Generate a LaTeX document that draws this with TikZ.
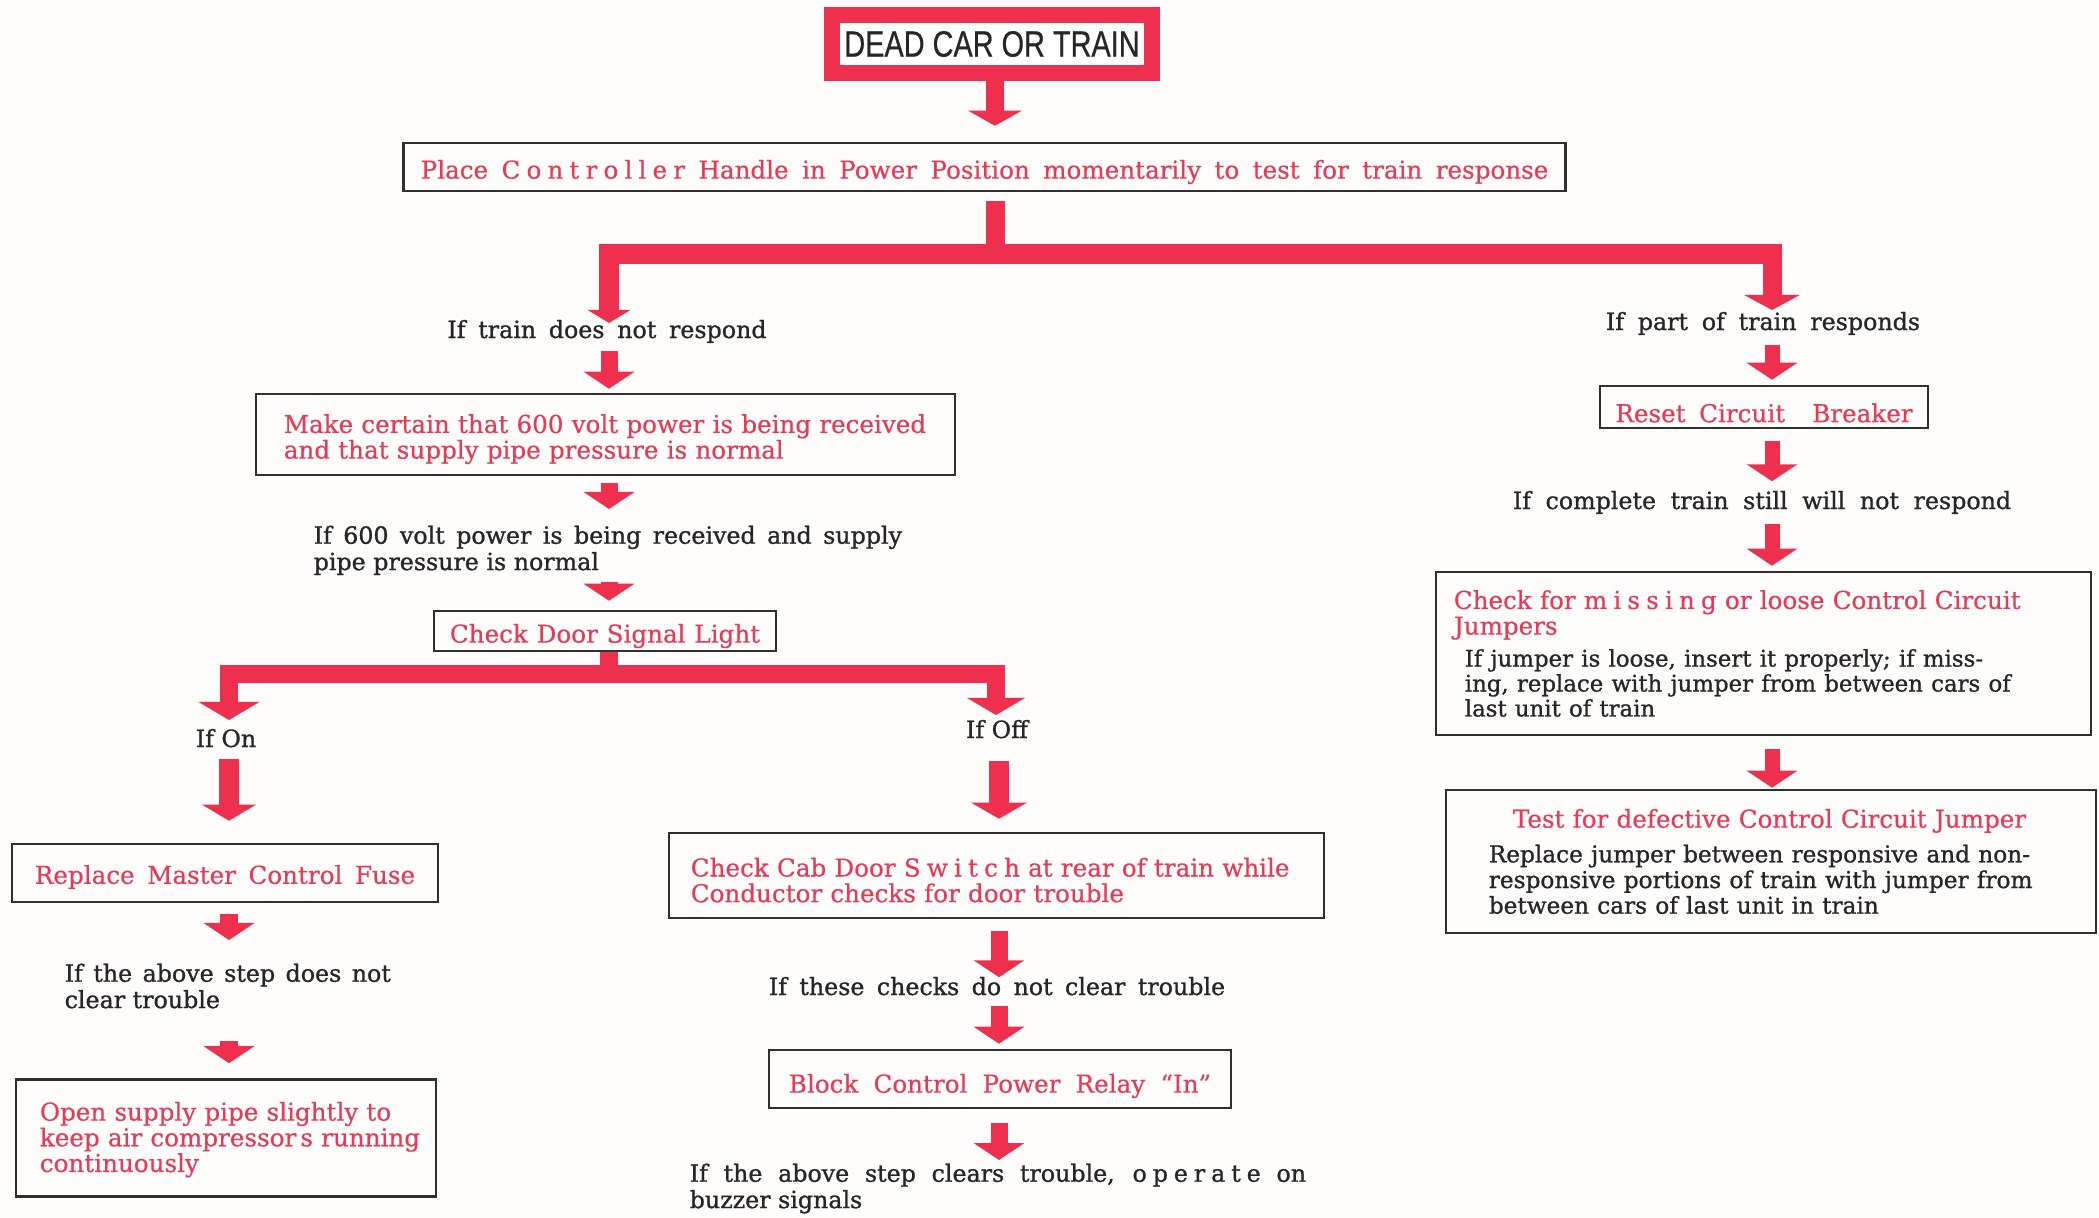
\documentclass[tikz,border=0pt]{standalone}
\usepackage{fontspec}
\usepackage{graphicx}
\setmainfont{DejaVu Serif}
\newfontfamily\redfont{DejaVu Serif}[FakeBold=0.4]
\newfontfamily\blkfont{DejaVu Serif}[FakeBold=1.0]
\newfontfamily\titlefont{Liberation Sans}
\usetikzlibrary{arrows.meta,calc}
\definecolor{ared}{HTML}{EE2F4D}
\definecolor{tred}{HTML}{E63A55}
\definecolor{tblk}{HTML}{262626}
\definecolor{bord}{HTML}{303030}
\definecolor{bgc}{HTML}{FFFCFC}
\newcommand\spc[1]{{\addfontfeature{LetterSpace=25}#1}}
\newcommand\jl[2]{\makebox[#1][s]{#2}}
\newcommand\low[2]{\raisebox{-#1}[\height][\depth]{#2}}
\newcommand\redsz{\redfont\fontsize{7.0}{7.3}\selectfont}
\newcommand\blksz{\blkfont\fontsize{6.75}{7.5}\selectfont}
\newcommand\jbsz{\blkfont\fontsize{6.5}{7.1}\selectfont}
\newcommand\tbsz{\blkfont\fontsize{6.6}{7.3}\selectfont}
\begin{document}
\begin{tikzpicture}[x=0.01cm,y=-0.01cm,
  arr/.style={draw=ared, line width=0.17cm, line join=miter, -{Triangle[width=0.5cm,length=0.17cm]}},
  box/.style={draw=bord, line width=0.025cm, inner sep=0pt},
  rtx/.style={text=tred, font=\redsz},
  btx/.style={text=tblk, font=\blksz, inner sep=0pt},
]
\fill[bgc] (0,0) rectangle (2099,1218);
\useasboundingbox (0,0) rectangle (2099,1218);

% column lines and free ends
\coordinate (cT) at (995,0);
\coordinate (cA) at (609,0);
\coordinate (cB) at (229,0);
\coordinate (cC) at (999,0);
\coordinate (cD) at (1772,0);
\coordinate (busA) at (0,254);
\coordinate (busB) at (0,674);
\coordinate (tipQ1) at (609,323);
\coordinate (tipP) at (1772,310);
\coordinate (tipOn) at (229,720);
\coordinate (tipOff) at (996,715);

% title
\node[fill=white, draw=ared, line width=0.16cm, minimum width=3.19cm, minimum height=0.57cm, inner sep=0pt, text=tblk] (title) at (992,44)
  {\titlefont\fontsize{10.4}{12}\selectfont\addfontfeature{FakeBold=0.6}\scalebox{0.79}[1]{DEAD CAR OR TRAIN}};

% boxes
\node[box, rtx, minimum width=11.61cm, minimum height=0.48cm] (place) at (984.5,167)
  {\low{0.05cm}{\jl{11.27cm}{Place \spc{Controller} Handle in Power Position momentarily to test for train response}}};
\node[box, rtx, minimum width=6.99cm, minimum height=0.81cm, text width=6.43cm, align=left] (make) at (605.5,434.5)
  {\rule{0pt}{0.28cm}\jl{6.51cm}{Make certain that 600 volt power is being received}\\and that supply pipe pressure is normal};
\node[box, rtx, minimum width=3.42cm, minimum height=0.40cm] (door) at (605,631)
  {\low{0.05cm}{\jl{3.10cm}{Check Door Signal Light}}};
\node[box, rtx, minimum width=4.26cm, minimum height=0.58cm] (fuse) at (225,873)
  {\low{0.04cm}{\jl{3.80cm}{Replace Master Control Fuse}}};
\node[box, rtx, minimum width=4.20cm, minimum height=1.17cm, text width=3.72cm, align=left] (open) at (226,1138)
  {\rule{0pt}{0.22cm}\jl{3.54cm}{Open supply pipe slightly to}\\\jl{3.90cm}{keep air compressor\,s running}\\continuously};
\node[box, rtx, minimum width=6.55cm, minimum height=0.85cm, text width=6.11cm, align=left] (cab) at (996.5,875.5)
  {\rule{0pt}{0.28cm}\jl{6.16cm}{Check Cab Door \spc{Switch} at rear of train while}\\Conductor checks for door trouble};
\node[box, rtx, minimum width=4.62cm, minimum height=0.58cm] (block) at (1000,1079)
  {\low{0.07cm}{\jl{4.22cm}{Block Control Power Relay “In”}}};
\node[box, rtx, minimum width=3.28cm, minimum height=0.42cm] (reset) at (1764,407)
  {\low{0.06cm}{\jl{2.97cm}{Reset Circuit\ \ Breaker}}};
\node[box, rtx, minimum width=6.55cm, minimum height=1.63cm, text width=6.19cm, align=left] (jump) at (1763.5,653.5)
  {\jl{6.15cm}{Check for \spc{missing} or loose Control Circuit}\\Jumpers\par\vspace{0.07cm}%
   {\color{tblk}\jbsz\hspace*{0.11cm}\jl{6.00cm}{If jumper is loose, insert it properly; if miss-}\\\hspace*{0.11cm}\jl{6.00cm}{ing, replace with jumper from between cars of}\\\hspace*{0.11cm}last unit of train\par}};
\node[box, rtx, minimum width=6.50cm, minimum height=1.43cm, text width=5.64cm, align=left] (test) at (1771,861.5)
  {\hspace*{0.24cm}\jl{5.33cm}{Test for defective Control Circuit Jumper}\par\vspace{0.09cm}%
   {\color{tblk}\tbsz\jl{5.95cm}{Replace jumper between responsive and non-}\\\jl{5.93cm}{responsive portions of train with jumper from}\\between cars of last unit in train\par}};

% condition labels
\node[btx, anchor=base] (q1) at (607,338) {\jl{3.19cm}{If train does not respond}};
\node[btx, anchor=north west, align=left] (q600) at (313,525)
  {\jl{5.88cm}{If 600 volt power is being received and supply}\\pipe pressure is normal};
\node[btx, anchor=base] (on) at (226,747) {If On};
\node[btx, anchor=base] (off) at (997,738) {If Off};
\node[btx, anchor=north west, align=left] (above) at (64,963)
  {\jl{3.26cm}{If the above step does not}\\clear trouble};
\node[btx, anchor=base] (checks) at (997,995) {\jl{4.56cm}{If these checks do not clear trouble}};
\node[btx, anchor=north west, align=left] (clears) at (689,1163)
  {\jl{6.16cm}{If the above step clears trouble, \spc{operate} on}\\buzzer signals};
\node[btx, anchor=base] (part) at (1763,330) {\jl{3.14cm}{If part of train responds}};
\node[btx, anchor=base] (complete) at (1762,509) {\jl{4.98cm}{If complete train still will not respond}};

% connectors
\draw[arr, line width=0.18cm, -{Triangle[width=0.53cm,length=0.15cm]}, shorten >=0.16cm]
  (title.south -| cT) -- (place.north -| cT);
\draw[arr, line width=0.19cm, -{Triangle[width=0.42cm,length=0.13cm]}, shorten <=0.09cm]
  (place.south -| cT) |- (busA -| tipQ1) -- (tipQ1);
\draw[arr, line width=0.19cm, -{Triangle[width=0.55cm,length=0.15cm]}]
  (busA -| cT) -| (tipP);
\draw[arr] ($(q1.south -| cA)+(0,7)$) -- ($(make.north -| cA)+(0,-4)$);
\draw[arr] ($(make.south -| cA)+(0,7)$) -- ($(q600.north -| cA)+(0,-16)$);
\draw[arr] ($(q600.south -| cA)+(0,6)$) -- ($(door.north -| cA)+(0,-9)$);
\draw[arr, line width=0.185cm, -{Triangle[width=0.6cm,length=0.18cm]}]
  (door.south -| cA) |- (busB -| tipOn) -- (tipOn);
\draw[arr, line width=0.185cm, -{Triangle[width=0.57cm,length=0.17cm]}]
  (busB -| cA) -| (tipOff);
\draw[arr, line width=0.2cm, -{Triangle[width=0.53cm,length=0.16cm]}]
  ($(on.south -| cB)+(0,11)$) -- ($(fuse.north -| cB)+(0,-22)$);
\draw[arr] ($(fuse.south -| cB)+(0,11)$) -- ($(above.north -| cB)+(0,-23)$);
\draw[arr] ($(above.south -| cB)+(0,32)$) -- ($(open.north -| cB)+(0,-15)$);
\draw[arr, line width=0.2cm, -{Triangle[width=0.55cm,length=0.16cm]}]
  ($(off.south -| cC)+(0,22)$) -- ($(cab.north -| cC)+(0,-13)$);
\draw[arr] ($(cab.south -| cC)+(0,12)$) -- ($(checks.north -| cC)+(0,1)$);
\draw[arr] ($(checks.south -| cC)+(0,10)$) -- ($(block.north -| cC)+(0,-5)$);
\draw[arr] ($(block.south -| cC)+(0,14)$) -- ($(clears.north -| cC)+(0,-3)$);
\draw[arr, line width=0.15cm] ($(part.south -| cD)+(0,9)$) -- ($(reset.north -| cD)+(0,-5)$);
\draw[arr, line width=0.15cm] ($(reset.south -| cD)+(0,12)$) -- ($(complete.north -| cD)+(0,-9)$);
\draw[arr, line width=0.15cm] ($(complete.south -| cD)+(0,9)$) -- ($(jump.north -| cD)+(0,-5)$);
\draw[arr, line width=0.15cm] ($(jump.south -| cD)+(0,13)$) -- ($(test.north -| cD)+(0,-1)$);
\end{tikzpicture}
\end{document}
